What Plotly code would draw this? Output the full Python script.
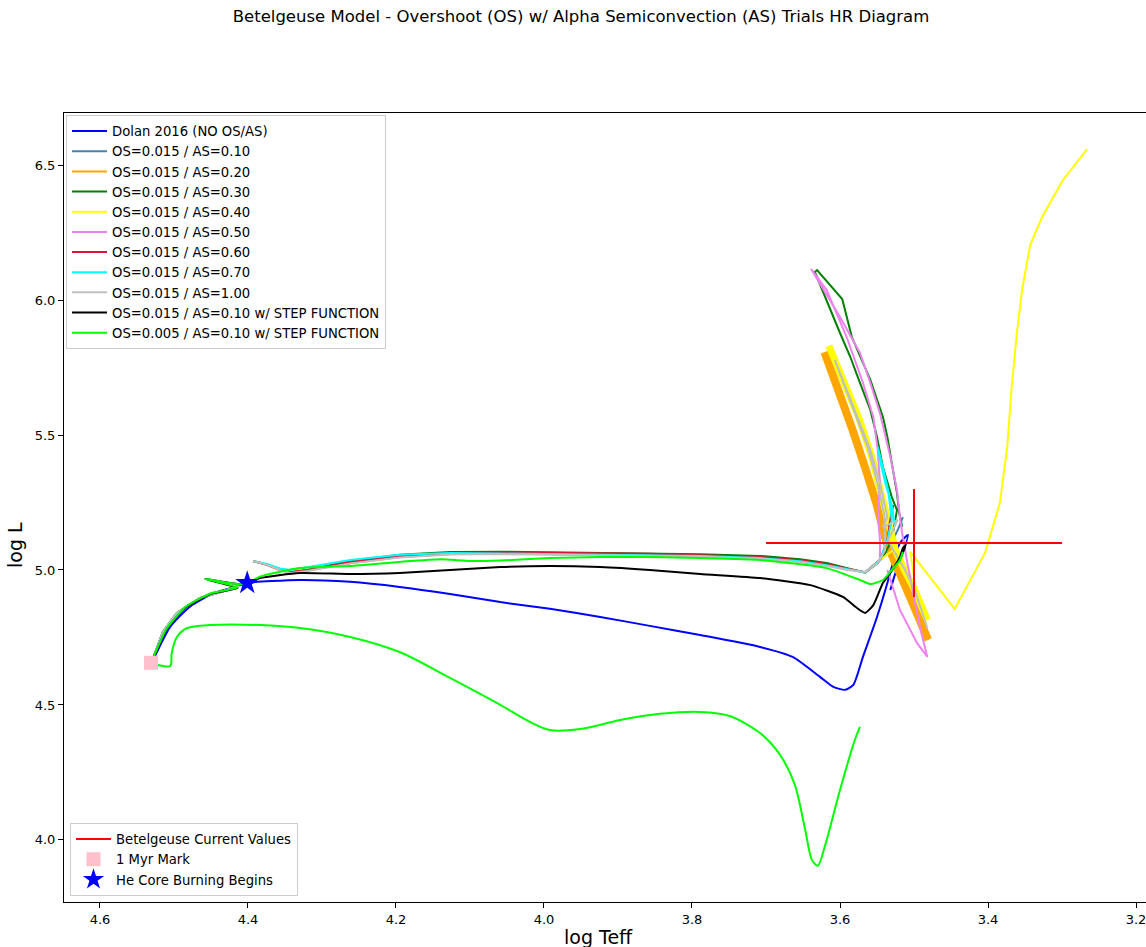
import plotly.graph_objects as go

# ---------------- data (log Teff, log L) ----------------
dolan = [(4.530, 4.660), (4.526, 4.680), (4.505, 4.790), (4.478, 4.865), (4.445, 4.915), (4.414, 4.940),
         (4.401, 4.952), (4.330, 4.963), (4.262, 4.956), (4.195, 4.937), (4.127, 4.911), (4.059, 4.881),
         (3.992, 4.856), (3.924, 4.826), (3.857, 4.793), (3.789, 4.759), (3.708, 4.715), (3.664, 4.678),
         (3.627, 4.604), (3.609, 4.567), (3.593, 4.556), (3.582, 4.574), (3.569, 4.678), (3.550, 4.826),
         (3.536, 4.952), (3.530, 5.011), (3.519, 5.100), (3.508, 5.130), (3.526, 4.981), (3.532, 4.926),
         (3.528, 4.963)]

as010 = [(4.528, 4.674), (4.515, 4.770), (4.496, 4.841), (4.465, 4.896), (4.428, 4.926), (4.411, 4.941),
         (None, None), (4.393, 5.033), (4.374, 5.019), (4.357, 5.000), (4.343, 4.991), (4.320, 4.998),
         (4.262, 5.026), (4.195, 5.048), (4.127, 5.059), (4.059, 5.061), (3.992, 5.059), (3.924, 5.057),
         (3.857, 5.056), (3.789, 5.052), (3.708, 5.044), (3.654, 5.032), (3.618, 5.018), (3.590, 5.002),
         (3.566, 4.991), (3.543, 5.044), (3.532, 5.093), (3.522, 5.148), (3.515, 5.196)]

as020 = [(4.528, 4.674), (4.515, 4.770), (4.496, 4.841), (4.465, 4.896), (4.428, 4.926), (4.411, 4.941),
         (None, None), (4.393, 5.033), (4.374, 5.019), (4.357, 5.000), (4.343, 4.991), (4.320, 4.998),
         (4.262, 5.026), (4.195, 5.048), (4.127, 5.059), (4.059, 5.061), (3.992, 5.059), (3.924, 5.057),
         (3.857, 5.056), (3.789, 5.052), (3.708, 5.044), (3.654, 5.032), (3.618, 5.018), (3.590, 5.002),
         (3.566, 4.991), (3.546, 5.037), (3.536, 5.100), (3.550, 5.248), (3.564, 5.370), (3.582, 5.519),
         (3.604, 5.693), (3.620, 5.807), (3.604, 5.693), (3.582, 5.519), (3.564, 5.370), (3.550, 5.248),
         (3.536, 5.100), (3.519, 5.000), (3.501, 4.878), (3.481, 4.741)]
as020_loops = [(3.621, 5.807), (3.605, 5.693), (3.583, 5.519), (3.565, 5.370), (3.551, 5.248),
               (3.537, 5.100), (3.520, 5.000), (3.502, 4.878), (3.481, 4.741)]

as030 = [(4.528, 4.674), (4.515, 4.770), (4.496, 4.841), (4.465, 4.896), (4.428, 4.926), (4.411, 4.941),
         (None, None), (4.393, 5.033), (4.374, 5.019), (4.357, 5.002), (4.343, 4.993), (4.320, 5.000),
         (4.262, 5.033), (4.195, 5.056), (4.127, 5.067), (4.059, 5.068), (3.992, 5.066), (3.924, 5.064),
         (3.857, 5.062), (3.789, 5.058), (3.708, 5.052), (3.654, 5.040), (3.618, 5.026), (3.590, 5.007),
         (3.566, 4.990), (3.549, 5.026), (3.539, 5.063), (3.530, 5.110), (3.523, 5.222), (3.530, 5.270),
         (3.542, 5.381), (3.550, 5.493), (3.559, 5.593), (3.573, 5.693), (3.586, 5.789), (3.600, 5.878),
         (3.618, 6.000), (3.634, 6.104), (3.631, 6.111), (3.597, 6.004), (3.584, 5.863), (3.569, 5.767),
         (3.559, 5.704), (3.542, 5.567), (3.536, 5.493), (3.530, 5.396), (3.523, 5.285), (3.520, 5.211),
         (3.516, 5.160)]

as040 = [(4.528, 4.674), (4.515, 4.770), (4.496, 4.841), (4.465, 4.896), (4.428, 4.926), (4.411, 4.941),
         (None, None), (4.393, 5.033), (4.374, 5.019), (4.357, 5.000), (4.343, 4.991), (4.320, 4.998),
         (4.262, 5.026), (4.195, 5.048), (4.127, 5.059), (4.059, 5.061), (3.992, 5.059), (3.924, 5.057),
         (3.857, 5.056), (3.789, 5.052), (3.708, 5.044), (3.654, 5.032), (3.618, 5.018), (3.590, 5.002),
         (3.566, 4.991), (3.546, 5.037), (3.528, 5.074), (3.536, 5.159), (3.549, 5.296), (3.559, 5.419),
         (3.577, 5.567), (3.600, 5.715), (3.616, 5.822), (3.600, 5.715), (3.577, 5.567), (3.559, 5.419),
         (3.549, 5.296), (3.536, 5.159), (3.528, 5.074), (3.515, 5.000), (3.501, 4.926), (3.482, 4.815),
         (3.495, 4.880), (3.505, 5.067), (3.445, 4.856), (3.404, 5.063), (3.384, 5.248), (3.374, 5.456),
         (3.368, 5.678), (3.361, 5.878), (3.354, 6.037), (3.343, 6.204), (3.327, 6.307), (3.299, 6.444),
         (3.266, 6.559)]
as040_loops = [(3.615, 5.830), (3.598, 5.715), (3.575, 5.567), (3.557, 5.419), (3.546, 5.296),
               (3.533, 5.159), (3.525, 5.074), (3.513, 5.000), (3.499, 4.926), (3.482, 4.815)]

as050 = [(4.528, 4.674), (4.515, 4.770), (4.496, 4.841), (4.465, 4.896), (4.428, 4.926), (4.411, 4.941),
         (None, None), (4.393, 5.033), (4.374, 5.019), (4.357, 5.000), (4.343, 4.991), (4.320, 4.998),
         (4.262, 5.026), (4.195, 5.048), (4.127, 5.059), (4.059, 5.061), (3.992, 5.059), (3.924, 5.057),
         (3.857, 5.056), (3.789, 5.052), (3.708, 5.044), (3.654, 5.032), (3.618, 5.018), (3.590, 5.002),
         (3.566, 4.991), (3.546, 5.037), (3.546, 5.111), (3.549, 5.211), (3.546, 5.322), (3.549, 5.444),
         (3.555, 5.567), (3.569, 5.693), (3.591, 5.863), (3.618, 6.037), (3.639, 6.115), (3.600, 5.937),
         (3.573, 5.804), (3.559, 5.693), (3.546, 5.581), (3.532, 5.419), (3.523, 5.296), (3.519, 5.196),
         (3.516, 5.137), (3.509, 5.026), (3.501, 4.915), (3.492, 4.789), (3.482, 4.678), (3.496, 4.730),
         (3.519, 4.852), (3.536, 5.000)]

as060 = [(4.528, 4.674), (4.515, 4.770), (4.496, 4.841), (4.465, 4.896), (4.428, 4.926), (4.411, 4.941),
         (None, None), (4.393, 5.033), (4.374, 5.019), (4.357, 5.001), (4.343, 4.992), (4.320, 5.000),
         (4.262, 5.030), (4.195, 5.052), (4.127, 5.063), (4.059, 5.065), (3.992, 5.063), (3.924, 5.061),
         (3.857, 5.060), (3.789, 5.055), (3.708, 5.048), (3.654, 5.036), (3.618, 5.022), (3.590, 5.005),
         (3.566, 4.992), (3.546, 5.037), (3.536, 5.111), (3.532, 5.185), (3.528, 5.241), (3.534, 5.159)]

as070 = [(4.528, 4.674), (4.515, 4.770), (4.496, 4.841), (4.465, 4.896), (4.428, 4.926), (4.411, 4.941),
         (None, None), (4.393, 5.033), (4.374, 5.022), (4.357, 5.006), (4.343, 5.000), (4.320, 5.010),
         (4.262, 5.037), (4.195, 5.056), (4.127, 5.063), (4.059, 5.061), (3.992, 5.059), (3.924, 5.057),
         (3.857, 5.056), (3.789, 5.052), (3.708, 5.044), (3.654, 5.032), (3.618, 5.018), (3.590, 5.002),
         (3.566, 4.991), (3.546, 5.037), (3.536, 5.111), (3.530, 5.185), (3.535, 5.296), (3.542, 5.381),
         (3.549, 5.456), (3.546, 5.407), (3.538, 5.315), (3.530, 5.241), (3.526, 5.167)]

as100 = [(4.528, 4.674), (4.515, 4.770), (4.496, 4.841), (4.465, 4.896), (4.428, 4.926), (4.411, 4.941),
         (None, None), (4.393, 5.033), (4.374, 5.019), (4.357, 5.000), (4.343, 4.989), (4.320, 4.996),
         (4.262, 5.024), (4.195, 5.046), (4.127, 5.057), (4.059, 5.059), (3.992, 5.057), (3.924, 5.055),
         (3.857, 5.054), (3.789, 5.050), (3.708, 5.042), (3.654, 5.029), (3.618, 5.015), (3.590, 5.000),
         (3.566, 4.993), (3.549, 5.026), (3.539, 5.074), (3.540, 5.200), (3.550, 5.330), (3.562, 5.450),
         (3.577, 5.560), (3.594, 5.680), (3.607, 5.778), (3.591, 5.667), (3.573, 5.544), (3.559, 5.444),
         (3.546, 5.322), (3.536, 5.196), (3.542, 5.159), (3.522, 5.185), (3.535, 5.111), (3.528, 5.074),
         (3.512, 5.000), (3.499, 4.926), (3.482, 4.785)]

step015 = [(4.527, 4.680), (4.510, 4.780), (4.485, 4.860), (4.450, 4.912), (4.414, 4.933), (4.458, 4.967),
           (4.405, 4.946), (4.384, 4.970), (4.330, 4.989), (4.262, 4.985), (4.195, 4.989), (4.127, 5.000),
           (4.059, 5.011), (3.992, 5.015), (3.924, 5.011), (3.857, 5.000), (3.789, 4.985), (3.708, 4.970),
           (3.640, 4.944), (3.596, 4.900), (3.577, 4.859), (3.566, 4.841), (3.555, 4.870), (3.542, 4.952),
           (3.532, 4.989), (3.519, 5.048), (3.515, 5.081), (3.511, 5.093), (3.519, 5.040), (3.512, 5.085)]

step005 = [(4.527, 4.682), (4.510, 4.782), (4.485, 4.862), (4.450, 4.914), (4.414, 4.935), (4.458, 4.967),
           (4.405, 4.946), (4.384, 4.975), (4.330, 5.007), (4.262, 5.015), (4.195, 5.030), (4.140, 5.040),
           (4.100, 5.033), (4.059, 5.035), (3.992, 5.044), (3.924, 5.048), (3.857, 5.048), (3.789, 5.044),
           (3.708, 5.037), (3.618, 5.007), (3.573, 4.963), (3.559, 4.948), (3.542, 4.963), (3.530, 5.000),
           (3.519, 5.037), (3.515, 5.067)]
step005_low = [(4.531, 4.656), (4.522, 4.648), (4.505, 4.644), (4.503, 4.693), (4.496, 4.752), (4.482, 4.785),
               (4.451, 4.796), (4.384, 4.796), (4.330, 4.785), (4.262, 4.752), (4.195, 4.696), (4.127, 4.600),
               (4.059, 4.500), (4.019, 4.437), (3.992, 4.407), (3.951, 4.411), (3.897, 4.444), (3.843, 4.467),
               (3.789, 4.474), (3.749, 4.459), (3.708, 4.396), (3.681, 4.315), (3.661, 4.204), (3.647, 4.037),
               (3.638, 3.926), (3.630, 3.904), (3.620, 3.981), (3.600, 4.185), (3.580, 4.370), (3.573, 4.419)]

betel_teff, betel_logl = 3.5, 5.1
betel_teff_err, betel_logl_err = 0.2, 0.2
myr1_teff, myr1_logl = 4.531, 4.656
hecore_teff, hecore_logl = 4.401, 4.952

x_ticks = [4.6, 4.4, 4.2, 4.0, 3.8, 3.6, 3.4, 3.2]
y_ticks = [4.0, 4.5, 5.0, 5.5, 6.0, 6.5]

# ---------------- figure ----------------
FONT = "DejaVu Sans"


def xs(pts):
    return [p[0] for p in pts]


def ys(pts):
    return [p[1] for p in pts]


fig = go.Figure()


def add_line(pts, color, name=None, width=2, legend=True, smooth=None):
    line = dict(color=color, width=width)
    if smooth:
        line.update(shape="spline", smoothing=smooth)
    fig.add_trace(go.Scatter(
        x=xs(pts), y=ys(pts), mode="lines", name=name, line=line,
        showlegend=legend, legend="legend", connectgaps=False,
        hoverinfo="skip"))


add_line(dolan, "#0000FF", "Dolan 2016 (NO OS/AS)", smooth=0.6)
add_line(as010, "#4682B4", "OS=0.015 / AS=0.10")
add_line(as020, "#FFA500", "OS=0.015 / AS=0.20")
add_line(as020_loops, "#FFA500", width=8, legend=False)
add_line(as030, "#008000", "OS=0.015 / AS=0.30")
add_line(as040, "#FFFF00", "OS=0.015 / AS=0.40")
add_line(as040_loops, "#FFFF00", width=7, legend=False)
add_line(as050, "#EE82EE", "OS=0.015 / AS=0.50")
add_line(as060, "#DC143C", "OS=0.015 / AS=0.60")
add_line(as070, "#00FFFF", "OS=0.015 / AS=0.70")
add_line(as100, "#C0C0C0", "OS=0.015 / AS=1.00")
add_line(step015, "#000000", "OS=0.015 / AS=0.10 w/ STEP FUNCTION", smooth=0.5)
add_line(step005, "#00FF00", "OS=0.005 / AS=0.10 w/ STEP FUNCTION", smooth=0.5)
add_line(step005_low, "#00FF00", legend=False, smooth=0.8)

# Betelgeuse current values (cross)
fig.add_trace(go.Scatter(
    x=[betel_teff + betel_teff_err, betel_teff - betel_teff_err, None, betel_teff, betel_teff],
    y=[betel_logl, betel_logl, None, betel_logl - betel_logl_err, betel_logl + betel_logl_err],
    mode="lines", name="Betelgeuse Current Values", line=dict(color="#FF0000", width=2),
    legend="legend2", hoverinfo="skip"))
fig.add_trace(go.Scatter(
    x=[myr1_teff], y=[myr1_logl], mode="markers", name="1 Myr Mark",
    marker=dict(symbol="square", size=14, color="#FFC0CB"), legend="legend2"))
fig.add_trace(go.Scatter(
    x=[hecore_teff], y=[hecore_logl], mode="markers", name="He Core Burning Begins",
    marker=dict(symbol="star", size=18, color="#0000FF"), legend="legend2"))

W, H = 1146, 947
L_M, R_M, T_M, B_M = 64, 0, 113, 45
PW, PH = W - L_M - R_M, H - T_M - B_M

legend_style = dict(bgcolor="rgba(255,255,255,0.85)", bordercolor="#cccccc", borderwidth=1,
                    font=dict(family=FONT, size=13.2, color="#000000"), itemwidth=35, tracegroupgap=0,
                    xanchor="left")

fig.update_layout(
    width=W, height=H,
    margin=dict(l=L_M, r=R_M, t=T_M, b=B_M),
    paper_bgcolor="white", plot_bgcolor="white",
    font=dict(family=FONT, size=13, color="#000000"),
    title=dict(text="Betelgeuse Model - Overshoot (OS) w/ Alpha Semiconvection (AS) Trials HR Diagram",
               x=581 / W, xanchor="center", y=1 - 16 / H, yanchor="middle", yref="container",
               font=dict(family=FONT, size=16.5, color="#000000")),
    xaxis=dict(range=[4.6486, 3.1865], tickvals=x_ticks, ticktext=[f"{v:.1f}" for v in x_ticks],
               showgrid=False, zeroline=False, showline=True, linecolor="#000000", linewidth=1,
               mirror=True, ticks="outside", ticklen=5, tickwidth=1, tickcolor="#000000",
               ticklabeloverflow="allow",
               tickfont=dict(family=FONT, size=13, color="#000000")),
    yaxis=dict(range=[3.770, 6.693], tickvals=y_ticks, ticktext=[f"{v:.1f}" for v in y_ticks],
               showgrid=False, zeroline=False, showline=True, linecolor="#000000", linewidth=1,
               mirror=False, ticks="outside", ticklen=5, tickwidth=1, tickcolor="#000000",
               tickfont=dict(family=FONT, size=13, color="#000000")),
    legend=dict(x=(66 - L_M) / PW, y=1 - (115 - T_M) / PH, yanchor="top", **legend_style),
    legend2=dict(x=(70 - L_M) / PW, y=(H - B_M - 896) / PH, yanchor="bottom", **legend_style),
    showlegend=True,
    annotations=[
        dict(text="log Teff", x=(598 - L_M) / PW, y=(H - B_M - 937) / PH,
             xref="paper", yref="paper", showarrow=False, xanchor="center", yanchor="middle",
             font=dict(family=FONT, size=19, color="#000000")),
        dict(text="log L", x=(15 - L_M) / PW, y=(H - B_M - 545) / PH,
             xref="paper", yref="paper", showarrow=False, xanchor="center", yanchor="middle",
             textangle=-90, font=dict(family=FONT, size=19, color="#000000")),
    ],
)

fig.write_html("out.html")
